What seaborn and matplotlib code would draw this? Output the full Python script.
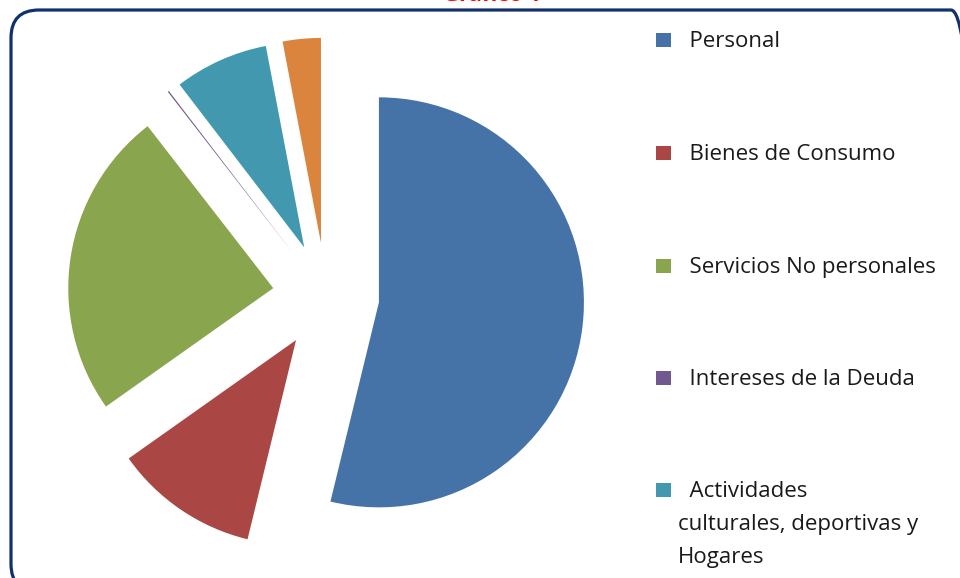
import matplotlib
matplotlib.use("Agg")
import matplotlib.pyplot as plt
import seaborn as sns
from matplotlib.patches import FancyBboxPatch, Rectangle
from matplotlib.transforms import IdentityTransform

# Chart data (shares in %)
categories = ["Personal", "Bienes de Consumo", "Servicios No personales",
              "Intereses de la Deuda",
              "Actividades culturales, deportivas y Hogares", "Otros"]
shares = [53.8, 11.4, 24.3, 0.1, 7.4, 3.0]
legend_labels = ["  Personal", "  Bienes de Consumo", "  Servicios No personales",
                 "  Intereses de la Deuda",
                 "  Actividades\nculturales, deportivas y\nHogares"]
colors = ["#4572A7", "#AA4643", "#89A54E", "#71588F", "#4198AF", "#DB843D"]
title = "Gráfico 1"

sns.set_style("white")
plt.rcParams['font.family'] = ['Open Sans', 'DejaVu Sans']

W, H = 960, 578
fig = plt.figure(figsize=(W / 100, H / 100), dpi=100)

# Square axes so that radius 1 ~ 205 px, pie centre at (326, 296) px from top
half = 280
cx, cy = 326, H - 296
ax = fig.add_axes([(cx - half) / W, (cy - half) / H, 2 * half / W, 2 * half / H])
wedges, _ = ax.pie(shares, colors=colors, startangle=90, counterclock=False,
                   explode=[0.26] * len(shares), radius=1.0,
                   wedgeprops=dict(linewidth=0))
lim = half / 205
ax.set_xlim(-lim, lim)
ax.set_ylim(-lim, lim)
ax.set_aspect("equal")
ax.axis("off")

# Rounded frame, partially cut by the image edges
frame = FancyBboxPatch((11, -14), 968, H - 10 + 14,
                       boxstyle="round,pad=0,rounding_size=28",
                       transform=IdentityTransform(), fill=False,
                       edgecolor="#12306B", linewidth=2.3)
fig.patches.append(frame)

# Title, mostly clipped by the top edge
fig.text(492 / W, (H - 1) / H, title, color="#FF0000", fontsize=16,
         fontweight="bold", ha="center", va="baseline")

# Legend drawn by hand (only five entries visible); baselines in px from top
baselines = [47, 160, 273, 385, 497]
line_step = 33
for label, col, base in zip(legend_labels, colors, baselines):
    fig.patches.append(Rectangle((656, H - base), 15, 14, transform=IdentityTransform(),
                                 facecolor=col, edgecolor="none"))
    for i, line in enumerate(label.split("\n")):
        fig.text(678 / W, (H - base - i * line_step) / H, line, fontsize=16,
                 color="#1a1a1a", ha="left", va="baseline")

plt.savefig("out.png", dpi=100)
plt.close(fig)
